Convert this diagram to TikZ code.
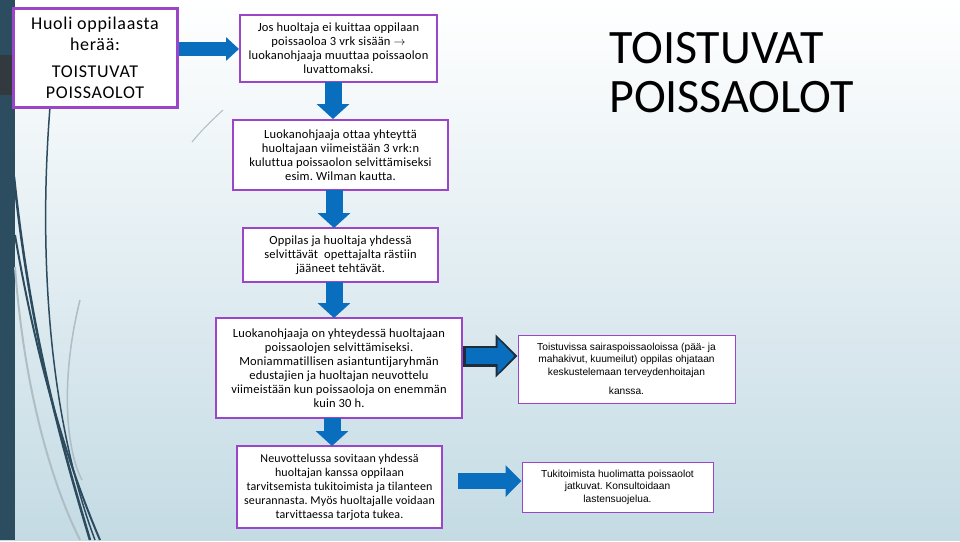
\documentclass[tikz,border=0pt]{standalone}
\usepackage{fontspec}
\setmainfont{Carlito}[Ligatures=NoCommon]
\newfontfamily\arialfont{Liberation Sans}
\usetikzlibrary{arrows.meta}
\frenchspacing

\definecolor{boxpurple}{RGB}{155,70,200}
\definecolor{arrowblue}{RGB}{10,110,190}
\definecolor{arrowedge}{RGB}{30,45,60}
\definecolor{stripdark}{RGB}{44,77,96}
\definecolor{bandgrey}{RGB}{50,58,64}
\definecolor{bgbottom}{RGB}{196,219,228}
\definecolor{curvedark}{RGB}{45,75,95}
\definecolor{curvelight}{RGB}{175,190,195}

\begin{document}
\begin{tikzpicture}[x=1pt, y=-1pt,
  every node/.style={font=\fontsize{12.5}{14}\selectfont\addfontfeature{LetterSpace=1.5}},
  stepbox/.style={draw=boxpurple, line width=2pt, fill=white, align=center, inner sep=2pt},
  sidebox/.style={draw=boxpurple, line width=1pt, fill=white, align=center, inner sep=2pt,
    font=\arialfont\fontsize{10.2}{12.5}\selectfont},
  downarrow/.style={draw=arrowblue, line width=17pt, -{Triangle[length=15pt, width=32pt]}},
  rightarrow/.style={draw=arrowblue, line width=16pt, -{Triangle[length=16pt, width=31pt]}}]

  % background
  \shade[top color=white, bottom color=bgbottom] (0,0) rectangle (960,540);
  \fill[stripdark] (0,0) rectangle (15,540);
  \fill[bandgrey] (0,55) rectangle (15,95);
  \draw[curvedark, line width=1.5pt] (50,107) .. controls (38,260) and (50,420) .. (95,540);
  \draw[curvedark, line width=2.5pt] (14,177) .. controls (30,330) and (60,440) .. (90,540);
  \draw[curvedark, line width=2pt] (15,235) .. controls (38,370) and (70,470) .. (100,540);
  \draw[curvelight, line width=2pt] (15,267) .. controls (25,400) and (55,490) .. (80,540);
  \draw[curvelight, line width=1.5pt] (80,300) .. controls (60,380) and (66,450) .. (82,480);
  \draw[curvelight, line width=1pt] (223,110) .. controls (210,122) and (200,132) .. (192,142);

  % title
  \node[anchor=north west, inner sep=0pt, align=left, font=\fontsize{48}{49}\selectfont] (title) at (609,32)
  {TOISTUVAT\\POISSAOLOT};

  % boxes
  \node[stepbox, line width=3pt, minimum width=164pt, minimum height=99pt,
    font=\fontsize{18}{21}\selectfont\addfontfeature{LetterSpace=4}] (worry) at (95,57.5)
  {Huoli oppilaasta\\herää:\\[6pt]TOISTUVAT\\POISSAOLOT};

  \node[stepbox, minimum width=197pt, minimum height=67pt] (unexcused) at (338.5,48.5)
  {Jos huoltaja ei kuittaa oppilaan\\poissaoloa 3 vrk sisään $\rightarrow$\\luokanohjaaja muuttaa poissaolon\\luvattomaksi.};

  \node[stepbox, minimum width=215pt, minimum height=70pt] (contact) at (340.5,155)
  {Luokanohjaaja ottaa yhteyttä\\huoltajaan viimeistään 3 vrk:n\\kuluttua poissaolon selvittämiseksi\\esim. Wilman kautta.};

  \node[stepbox, minimum width=195pt, minimum height=54pt] (tasks) at (340.5,255)
  {Oppilas ja huoltaja yhdessä\\selvittävät\ \ opettajalta rästiin\\jääneet tehtävät.};

  \node[stepbox, minimum width=246pt, minimum height=100pt] (meeting) at (339,368)
  {Luokanohjaaja on yhteydessä huoltajaan\\poissaolojen selvittämiseksi.\\Moniammatillisen asiantuntijaryhmän\\edustajien ja huoltajan neuvottelu\\viimeistään kun poissaoloja on enemmän\\kuin 30 h.};

  \node[stepbox, minimum width=205pt, minimum height=82pt,
    font=\fontsize{12}{14}\selectfont\addfontfeature{LetterSpace=1}] (support) at (339.5,487)
  {Neuvottelussa sovitaan yhdessä\\huoltajan kanssa oppilaan\\tarvitsemista tukitoimista ja tilanteen\\seurannasta. Myös huoltajalle voidaan\\tarvittaessa tarjota tukea.};

  \node[sidebox, minimum width=217pt, minimum height=68pt] (nurse) at (626.5,369)
  {Toistuvissa sairaspoissaoloissa (pää- ja\\mahakivut, kuumeilut) oppilas ohjataan\\keskustelemaan terveydenhoitajan\\[7pt]kanssa.};

  \node[sidebox, minimum width=191pt, minimum height=50pt] (welfare) at (617.5,487)
  {Tukitoimista huolimatta poissaolot\\jatkuvat. Konsultoidaan\\lastensuojelua.};

  % arrows
  \draw[draw=arrowblue, line width=14pt, -{Triangle[length=13pt, width=23pt]}]
    (worry.east |- 0,49) -- (unexcused.west |- 0,49);
  \draw[downarrow] (333,82) -- (333,119);
  \draw[downarrow] (334,190) -- (334,228);
  \draw[downarrow] (334,282) -- (334,318);
  \draw[downarrow] (332,418) -- (332,446);

  \draw[draw=arrowedge, line width=21pt, -{Triangle[length=22pt, width=42pt]}]
    (meeting.east |- 0,356) -- (nurse.west |- 0,356);
  \draw[draw=arrowblue, line width=16pt, shorten <=2.5pt, shorten >=3pt, -{Triangle[length=17pt, width=34pt]}]
    (meeting.east |- 0,356) -- (nurse.west |- 0,356);

  \draw[rightarrow, shorten <=15pt] (support.east |- 0,481) -- (welfare.west |- 0,481);
\end{tikzpicture}
\end{document}
